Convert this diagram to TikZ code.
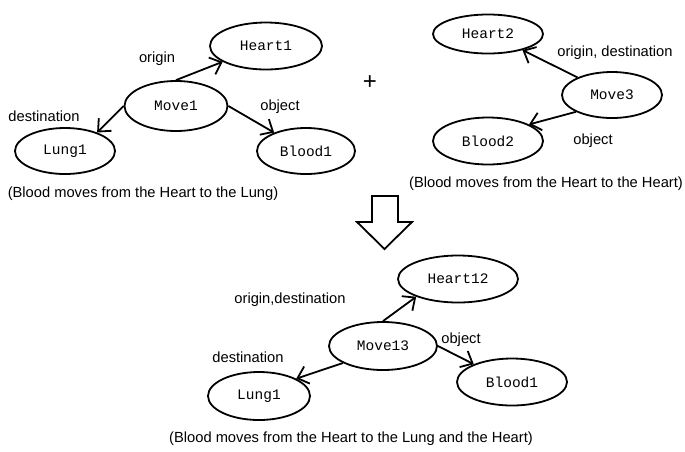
\documentclass[tikz,border=0pt]{standalone}
\usepackage{fontspec}
\setmainfont{Liberation Sans}
\newfontfamily\monof{Liberation Mono}
\usetikzlibrary{shapes.geometric,arrows.meta}
\begin{document}
\begin{tikzpicture}[x=1pt,y=-1pt,
  ell/.style={ellipse,draw,line width=1.8pt,inner sep=0pt,font=\monof\fontsize{14.5}{16}\selectfont},
  lbl/.style={font=\fontsize{14.7}{16}\selectfont,inner sep=0pt},
  conn/.style={line width=1.8pt,-{Straight Barb[length=10pt,width=18pt,line width=1.8pt]}}]
\useasboundingbox (0,0) rectangle (685,451);
% top left graph
\node[ell,minimum width=112pt,minimum height=47pt] (heart1) at (266,46) {Heart1};
\node[ell,minimum width=103pt,minimum height=50pt] (move1) at (176,106) {Move1};
\node[ell,minimum width=100pt,minimum height=46pt] (lung1) at (65,151) {Lung1};
\node[ell,minimum width=98pt,minimum height=46pt] (blood1) at (306,151) {Blood1};
\node[lbl] (l1) at (157,59) {origin};
\node[lbl] (l2) at (44,116) {destination};
\node[lbl] (l3) at (280,107) {object};
\draw[conn] (move1.north) -- (heart1.200);
\draw[conn] (move1.west) -- (lung1.30);
\draw[conn] (move1.east) -- (blood1.150);
\node[lbl] (c1) at (143,194) {(Blood moves from the Heart to the Lung)};
% plus
\node[font=\fontsize{24}{26}\selectfont,inner sep=0pt] (plus) at (370,83) {+};
% top right graph
\node[ell,minimum width=110pt,minimum height=39pt] (heart2) at (488,34) {Heart2};
\node[ell,minimum width=100pt,minimum height=46pt] (move3) at (612,95) {Move3};
\node[ell,minimum width=110pt,minimum height=47pt] (blood2) at (488,141) {Blood2};
\node[lbl] (l4) at (615,53) {origin, destination};
\node[lbl] (l5) at (593,141) {object};
\draw[conn] (move3.153) -- (heart2.-25);
\draw[conn] (move3.205) -- (blood2.22);
\node[lbl] (c2) at (546,184) {(Blood moves from the Heart to the Heart)};
% big hollow arrow
\draw[line width=1.8pt,line join=miter] (372,196) -- (398,196) -- (398,222) -- (412,222) -- (384.5,249) -- (357,222) -- (372,222) -- cycle;
% bottom graph
\node[ell,minimum width=120pt,minimum height=47pt] (heart12) at (458,279) {Heart12};
\node[ell,minimum width=108pt,minimum height=48pt] (move13) at (383,346) {Move13};
\node[ell,minimum width=110pt,minimum height=47pt] (blood1b) at (512,382) {Blood1};
\node[ell,minimum width=102pt,minimum height=48pt] (lung1b) at (259,396) {Lung1};
\node[lbl] (l6) at (290,300) {origin,destination};
\node[lbl] (l7) at (248,357) {destination};
\node[lbl] (l8) at (461,340) {object};
\draw[conn] (move13.north) -- (heart12.203);
\draw[conn] (move13.203) -- (lung1b.25);
\draw[conn] (move13.east) -- (blood1b.155);
\node[lbl] (c3) at (351,439) {(Blood moves from the Heart to the Lung and the Heart)};
\end{tikzpicture}
\end{document}
